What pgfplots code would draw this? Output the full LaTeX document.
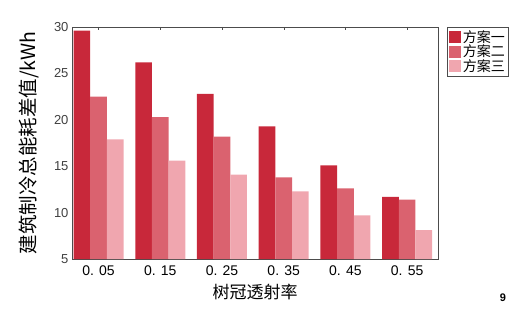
\documentclass[border=0pt]{standalone}
\usepackage{pgfplots}
\pgfplotsset{compat=1.18}
\usepackage{fontspec}
\setmainfont{Liberation Sans}
\newfontfamily\cjk{Noto Sans CJK SC}
\definecolor{cA}{HTML}{C8283A}
\definecolor{cB}{HTML}{DA626F}
\definecolor{cC}{HTML}{F0A6AF}
\begin{document}
\begin{tikzpicture}
\begin{axis}[
  scale only axis, width=366bp, height=232bp,
  ybar=0pt, bar width=0.27,
  xmin=-0.43, xmax=5.5, ymin=5, ymax=30,
  xtick={0,1,2,3,4,5},
  xticklabels={0. 05,0. 15,0. 25,0. 35,0. 45,0. 55},
  ytick={5,10,15,20,25,30},
  /pgf/number format/assume math mode=true,
  x tick label style={font=\fontsize{14bp}{16bp}\selectfont, yshift=-3bp},
  y tick label style={font=\fontsize{13bp}{15bp}\selectfont, text=black!75},
  major tick length=3bp,
  tick align=inside,
  ytick style={draw=none},
  xtick style={black!70},
  axis line style={black!70},
  xlabel={\cjk\fontsize{17bp}{18bp}\selectfont 树冠透射率},
  ylabel={\cjk\fontsize{19.5bp}{20bp}\selectfont 建筑制冷总能耗差值/kWh},
  xlabel style={yshift=-2bp},
  ylabel style={yshift=8bp},
  legend style={at={(1.025,1.0)}, anchor=north west, draw=black!70,
    font=\cjk\fontsize{14bp}{15bp}\selectfont, inner sep=1.5bp,
    row sep=-3bp, cells={anchor=west}},
  legend image code/.code={\fill[#1] (0bp,-6bp) rectangle (12bp,6bp);},
  legend cell align=left,
  clip=false,
]
\addplot[fill=cA, draw=none] coordinates {(0,29.6) (1,26.2) (2,22.8) (3,19.3) (4,15.1) (5,11.7)};
\addplot[fill=cB, draw=none] coordinates {(0,22.5) (1,20.3) (2,18.2) (3,13.8) (4,12.6) (5,11.4)};
\addplot[fill=cC, draw=none] coordinates {(0,17.9) (1,15.6) (2,14.1) (3,12.3) (4,9.7) (5,8.1)};
\legend{方案一,方案二,方案三}
\end{axis}
\node[font=\bfseries\fontsize{11bp}{12bp}\selectfont] at ([xshift=431bp,yshift=-39bp]current axis.south west) {9};
\path ([xshift=-72bp,yshift=-63bp]current axis.south west) rectangle ++(529bp,322bp);
\end{tikzpicture}
\end{document}
